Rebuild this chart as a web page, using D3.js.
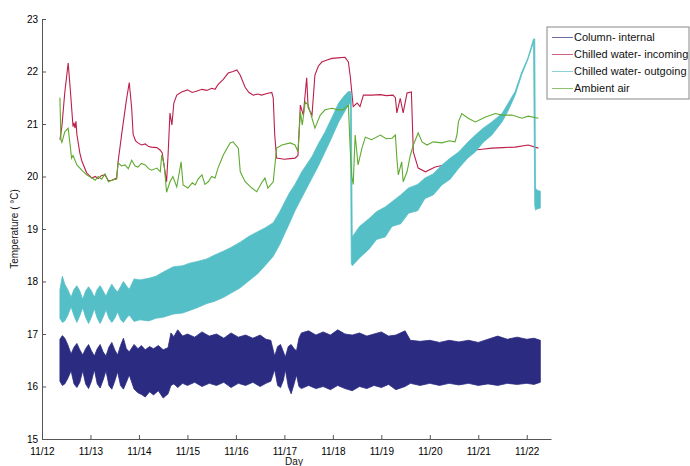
<!DOCTYPE html>
<html>
<head>
<meta charset="utf-8">
<script src="https://cdn.jsdelivr.net/npm/d3@7"></script>
<style>
  body { margin: 0; background: #fff; }
  text { font-family: "Liberation Sans", Arial, sans-serif; }
</style>
</head>
<body>
<div id="chart"></div>
<script>
// x ticks are whole days from 11/12, y ticks in degrees C
var tickLabels = ["11/12", "11/13", "11/14", "11/15", "11/16", "11/17", "11/18", "11/19", "11/20", "11/21", "11/22"];
var tempTicks = [15, 16, 17, 18, 19, 20, 21, 22, 23];
var seriesNames = ["Column- internal", "Chilled water- incoming", "Chilled water- outgoing", "Ambient air"];
var seriesColors = ["#2b2b82", "#bd1f4b", "#55bfc7", "#5fab30"];

// column internal (band: low / high envelope)
var internalDay = [0.37,0.42,0.47,0.53,0.60,0.66,0.72,0.78,0.84,0.90,
  0.96,1.02,1.08,1.14,1.20,1.26,1.32,1.38,1.44,1.50,
  1.56,1.62,1.68,1.74,1.80,1.90,1.98,2.05,2.13,2.22,
  2.30,2.40,2.50,2.60,2.66,2.72,2.80,2.90,3.00,3.15,
  3.30,3.45,3.60,3.75,3.90,4.05,4.20,4.35,4.50,4.62,
  4.72,4.80,4.86,4.92,4.98,5.02,5.08,5.14,5.20,5.25,
  5.30,5.35,5.50,5.65,5.80,5.95,6.10,6.25,6.40,6.55,
  6.70,6.85,7.00,7.15,7.30,7.49,7.60,7.80,8.00,8.20,
  8.40,8.60,8.80,9.00,9.20,9.40,9.60,9.80,10.00,10.15,
  10.28];
var internalLow = [16.10,16.02,16.05,16.15,16.30,16.05,15.98,16.08,16.30,16.05,
  15.96,16.10,16.32,16.05,15.97,16.12,16.30,16.02,15.95,16.10,
  16.28,16.02,15.95,16.08,16.22,15.95,15.88,15.85,15.80,15.90,
  15.84,15.92,15.78,15.86,16.02,16.05,15.98,16.06,16.02,16.08,
  16.00,16.06,16.02,16.08,15.98,16.06,16.02,16.08,16.00,16.06,
  16.10,16.32,16.02,15.98,16.12,16.32,16.00,15.86,16.05,16.22,
  16.00,15.96,16.02,15.96,16.00,15.94,16.02,15.96,15.92,16.00,
  15.96,16.02,15.98,16.04,15.94,16.00,16.06,16.02,16.06,16.02,
  16.06,16.03,16.06,16.02,16.05,16.02,16.06,16.04,16.06,16.04,
  16.08];
var internalHigh = [16.90,16.97,16.92,16.80,16.62,16.75,16.82,16.70,16.60,16.72,
  16.80,16.68,16.58,16.72,16.80,16.66,16.58,16.75,16.84,16.70,
  16.60,16.78,16.92,16.72,16.66,16.80,16.72,16.78,16.70,16.76,
  16.72,16.78,16.70,16.74,17.02,16.95,17.08,16.96,17.00,16.94,
  17.04,16.96,17.00,16.92,17.02,16.94,16.98,16.92,16.98,16.90,
  16.88,16.58,16.76,16.80,16.66,16.56,16.76,16.80,16.72,16.68,
  16.92,17.02,17.06,16.98,17.04,16.98,17.08,17.00,16.98,17.02,
  16.96,17.00,17.04,16.96,16.98,17.06,16.88,16.86,16.88,16.84,
  16.88,16.85,16.88,16.84,16.90,16.96,16.90,16.94,16.90,16.92,
  16.88];

// chilled water incoming
var incomingDay = [0.37,0.41,0.47,0.54,0.58,0.62,0.64,0.66,0.68,0.70,
  0.72,0.78,0.82,0.92,1.03,1.10,1.16,1.23,1.30,1.37,
  1.44,1.54,1.57,1.65,1.74,1.80,1.85,1.88,1.93,1.98,
  2.05,2.13,2.20,2.26,2.37,2.44,2.48,2.52,2.57,2.60,
  2.64,2.68,2.72,2.78,2.88,3.00,3.10,3.20,3.30,3.40,
  3.50,3.57,3.63,3.74,3.84,3.94,4.02,4.09,4.19,4.27,
  4.36,4.45,4.53,4.64,4.74,4.77,4.80,4.84,5.00,5.12,
  5.22,5.28,5.33,5.39,5.46,5.49,5.57,5.63,5.70,5.77,
  5.88,5.98,6.10,6.25,6.32,6.36,6.39,6.42,6.50,6.56,
  6.63,6.80,6.98,7.10,7.24,7.29,7.32,7.39,7.45,7.53,
  7.62,7.66,7.76,7.91,8.11,8.30,8.52,8.66,8.87,9.08,
  9.28,9.50,9.76,10.03,10.24];
var incomingTemp = [20.70,20.95,21.60,22.16,21.70,21.20,20.95,21.02,20.92,21.05,
  20.80,20.45,20.30,20.07,19.97,20.00,19.96,20.02,20.03,19.92,
  19.93,19.97,20.28,20.85,21.45,21.79,21.30,20.80,20.68,20.64,
  20.60,20.62,20.57,20.56,20.55,20.50,20.45,20.20,19.90,20.40,
  21.21,20.98,21.40,21.55,21.61,21.65,21.60,21.63,21.66,21.64,
  21.68,21.66,21.75,21.85,21.97,22.00,22.03,21.93,21.70,21.60,
  21.55,21.57,21.55,21.58,21.60,21.50,20.80,20.35,20.33,20.34,
  20.35,20.40,21.36,21.17,21.88,21.31,21.17,21.93,22.10,22.18,
  22.22,22.25,22.26,22.27,22.18,21.90,21.61,21.33,21.40,21.33,
  21.55,21.55,21.56,21.54,21.55,21.50,21.21,21.49,21.21,21.59,
  21.61,20.47,20.16,20.09,20.18,20.22,20.26,20.41,20.50,20.52,
  20.54,20.55,20.56,20.60,20.54];

// chilled water outgoing (band: low / high envelope)
var outgoingDay = [0.37,0.42,0.47,0.53,0.60,0.66,0.72,0.78,0.84,0.90,
  0.96,1.02,1.08,1.14,1.20,1.26,1.32,1.38,1.44,1.50,
  1.56,1.62,1.68,1.74,1.80,1.90,2.02,2.20,2.35,2.50,
  2.71,2.90,3.05,3.20,3.40,3.55,3.75,3.90,4.09,4.25,
  4.45,4.60,4.77,4.90,5.00,5.10,5.22,5.36,5.57,5.70,
  5.84,5.98,6.12,6.22,6.32,6.36,6.38,6.40,6.55,6.75,
  6.90,7.08,7.22,7.40,7.56,7.75,7.90,8.07,8.25,8.42,
  8.60,8.78,8.94,9.10,9.28,9.49,9.62,9.76,9.90,10.02,
  10.14,10.165,10.18,10.21,10.28];
var outgoingLow = [17.30,17.22,17.25,17.35,17.52,17.35,17.22,17.35,17.50,17.32,
  17.20,17.32,17.48,17.30,17.20,17.32,17.46,17.30,17.22,17.30,
  17.42,17.28,17.22,17.30,17.36,17.24,17.27,17.25,17.30,17.32,
  17.38,17.40,17.45,17.50,17.58,17.62,17.70,17.78,17.88,18.00,
  18.15,18.30,18.48,18.70,18.90,19.10,19.35,19.60,19.97,20.20,
  20.47,20.75,21.04,21.20,21.36,21.40,18.35,18.30,18.45,18.62,
  18.80,18.85,19.05,19.10,19.30,19.35,19.58,19.65,19.84,19.95,
  20.16,20.35,20.47,20.65,20.79,21.04,21.26,21.55,21.95,22.22,
  22.56,19.45,19.36,19.38,19.40];
var outgoingHigh = [17.85,18.10,17.95,17.85,17.70,17.85,17.92,17.82,17.66,17.82,
  17.90,17.82,17.70,17.85,17.92,17.82,17.72,17.85,17.95,17.86,
  17.80,17.90,18.00,17.92,17.85,18.05,18.03,18.06,18.10,18.18,
  18.28,18.30,18.35,18.38,18.43,18.50,18.58,18.65,18.75,18.85,
  18.95,19.02,19.12,19.32,19.50,19.68,19.85,20.09,20.38,20.62,
  20.85,21.12,21.40,21.52,21.62,21.62,21.55,18.85,19.05,19.20,
  19.33,19.42,19.52,19.65,19.78,19.85,19.97,20.05,20.22,20.35,
  20.47,20.65,20.79,20.92,21.04,21.20,21.40,21.62,22.00,22.25,
  22.62,22.62,19.78,19.74,19.72];

// ambient air
var ambientDay = [0.37,0.39,0.41,0.47,0.54,0.58,0.61,0.64,0.72,0.82,
  0.92,1.03,1.10,1.16,1.23,1.30,1.37,1.44,1.54,1.57,
  1.64,1.71,1.78,1.85,1.92,1.98,2.05,2.13,2.20,2.26,
  2.37,2.44,2.47,2.52,2.57,2.64,2.70,2.78,2.87,2.91,
  3.01,3.10,3.16,3.22,3.30,3.36,3.43,3.50,3.57,3.63,
  3.74,3.88,3.94,4.05,4.09,4.19,4.33,4.43,4.53,4.60,
  4.66,4.77,4.84,4.95,5.12,5.22,5.28,5.33,5.37,5.43,
  5.49,5.57,5.63,5.74,5.84,5.98,6.11,6.21,6.32,6.36,
  6.39,6.42,6.46,6.52,6.60,6.67,6.80,6.98,7.10,7.22,
  7.29,7.32,7.35,7.42,7.45,7.53,7.60,7.66,7.76,7.84,
  7.94,8.07,8.25,8.40,8.52,8.56,8.59,8.66,8.79,8.94,
  9.14,9.35,9.49,9.69,9.90,10.03,10.24];
var ambientTemp = [21.50,20.70,20.65,20.85,20.92,20.60,20.35,20.40,20.22,20.12,
  20.03,19.97,19.93,20.00,19.95,20.05,19.90,19.93,19.95,20.26,
  20.20,20.22,20.15,20.31,20.20,20.18,20.25,20.22,20.15,20.12,
  20.16,20.09,20.41,20.22,19.70,19.90,20.00,19.80,20.28,19.84,
  19.78,19.88,19.84,19.95,20.03,19.85,19.90,20.00,19.97,20.16,
  20.41,20.64,20.66,20.54,20.09,19.90,19.78,19.71,19.88,19.97,
  19.78,19.90,20.54,20.60,20.64,20.60,20.47,21.23,20.98,21.42,
  21.36,21.11,20.92,21.17,21.27,21.30,21.27,21.27,21.36,20.47,
  20.00,19.85,20.79,20.22,20.54,20.75,20.70,20.79,20.72,20.73,
  20.79,20.35,20.03,20.28,19.90,20.09,20.41,20.60,20.83,20.66,
  20.60,20.66,20.64,20.68,20.66,20.79,21.04,21.20,21.11,21.04,
  21.13,21.20,21.17,21.17,21.11,21.15,21.11];

// sets chart bounds and margins
var svgWidth = 690;
var svgHeight = 466;
var margin = { top: 19, right: 139, bottom: 27, left: 42 };
var width = svgWidth - margin.left - margin.right;
var height = svgHeight - margin.top - margin.bottom;

var svg = d3.select("#chart")
  .append("svg")
  .attr("width", svgWidth)
  .attr("height", svgHeight)
  .style("background", "#fff");

var chartGroup = svg.append("g")
  .attr("transform", `translate(${margin.left}, ${margin.top})`);

// scales
var xScale = d3.scaleLinear().domain([0, 10.5]).range([0, width]);
var yScale = d3.scaleLinear().domain([15, 23]).range([height, 0]);

// builds row objects from the arrays
function band(days, lows, highs) {
  return days.map((d, i) => ({ day: d, low: lows[i], high: highs[i] }));
}
function trace(days, temps) {
  return days.map((d, i) => ({ day: d, temp: temps[i] }));
}

var bandArea = d3.area()
  .x(d => xScale(d.day))
  .y0(d => yScale(d.low))
  .y1(d => yScale(d.high));

var traceLine = d3.line()
  .x(d => xScale(d.day))
  .y(d => yScale(d.temp));

// column internal
chartGroup.append("path")
  .datum(band(internalDay, internalLow, internalHigh))
  .attr("d", bandArea)
  .attr("fill", seriesColors[0])
  .attr("stroke", seriesColors[0])
  .attr("stroke-width", 0.8);

// chilled water incoming
chartGroup.append("path")
  .datum(trace(incomingDay, incomingTemp))
  .attr("d", traceLine)
  .attr("fill", "none")
  .attr("stroke", seriesColors[1])
  .attr("stroke-width", 1.1);

// chilled water outgoing
chartGroup.append("path")
  .datum(band(outgoingDay, outgoingLow, outgoingHigh))
  .attr("d", bandArea)
  .attr("fill", seriesColors[2])
  .attr("stroke", seriesColors[2])
  .attr("stroke-width", 0.8);

// ambient air
chartGroup.append("path")
  .datum(trace(ambientDay, ambientTemp))
  .attr("d", traceLine)
  .attr("fill", "none")
  .attr("stroke", seriesColors[3])
  .attr("stroke-width", 1.1);

// axes with ticks pointing inward
var bottomAxis = d3.axisBottom(xScale)
  .tickValues(d3.range(tickLabels.length))
  .tickFormat((d, i) => tickLabels[i])
  .tickSizeInner(-4)
  .tickSizeOuter(0)
  .tickPadding(9);

var leftAxis = d3.axisLeft(yScale)
  .tickValues(tempTicks)
  .tickFormat(d3.format("d"))
  .tickSizeInner(-4)
  .tickSizeOuter(0)
  .tickPadding(4);

var xAxis = chartGroup.append("g")
  .attr("transform", `translate(0, ${height})`)
  .call(bottomAxis);

var yAxis = chartGroup.append("g")
  .call(leftAxis);

[xAxis, yAxis].forEach(function(ax) {
  ax.selectAll("path, line").attr("stroke", "#555");
  ax.selectAll("text")
    .attr("font-family", "Liberation Sans, Arial, sans-serif")
    .attr("font-size", "10px")
    .attr("fill", "#000");
});

// axis titles
svg.append("text")
  .attr("transform", `translate(14, ${margin.top + height / 2}) rotate(-90)`)
  .attr("text-anchor", "middle")
  .attr("dy", "0.35em")
  .attr("font-size", "10px")
  .attr("fill", "#111")
  .text("Temperature ( °C)");

svg.append("text")
  .attr("x", margin.left + 252)
  .attr("y", 464.5)
  .attr("text-anchor", "middle")
  .attr("font-size", "10px")
  .attr("fill", "#111")
  .text("Day");

// legend box
var legend = svg.append("g")
  .attr("transform", "translate(547, 27)");

legend.append("rect")
  .attr("width", 142)
  .attr("height", 72)
  .attr("fill", "#fff")
  .attr("stroke", "#888");

var legendItems = legend.selectAll(".item")
  .data(seriesNames)
  .enter()
  .append("g")
  .attr("transform", (d, i) => `translate(0, ${10.5 + i * 17})`);

legendItems.append("line")
  .attr("x1", 5)
  .attr("x2", 26)
  .attr("stroke", (d, i) => seriesColors[i])
  .attr("stroke-opacity", 0.7);

legendItems.append("text")
  .attr("x", 27)
  .attr("dy", "0.35em")
  .attr("font-size", "11px")
  .attr("fill", "#111")
  .text(d => d);
</script>
</body>
</html>
